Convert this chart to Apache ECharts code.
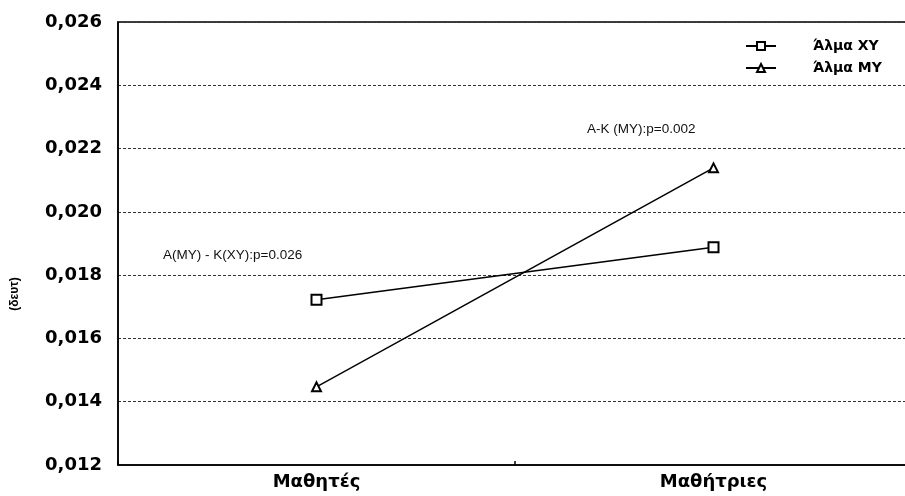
<!DOCTYPE html>
<html>
<head>
<meta charset="utf-8">
<script src="https://cdn.jsdelivr.net/npm/echarts@6/dist/echarts.min.js"></script>
<style>
  html, body { margin: 0; padding: 0; background: #fff; }
  #chart { width: 905px; height: 496px; }
</style>
</head>
<body>
<div id="chart"></div>
<script>
// Jump time by group (seconds)
const categories = ['Μαθητές', 'Μαθήτριες'];
const seriesNames = ['Άλμα XY', 'Άλμα MY'];
const jumpXY = [0.01722, 0.01888];
const jumpMY = [0.01447, 0.02139];
const yTicks = { min: 0.012, max: 0.026, step: 0.002 };
const yName = '(δευτ)';
const notes = ['A(MY) - K(XY):p=0.026', 'A-K (MY):p=0.002'];

const BOLD = '"DejaVu Sans", Verdana, sans-serif';
const PLAIN = '"Liberation Sans", Arial, sans-serif';
const chart = echarts.init(document.getElementById('chart'));

chart.setOption({
  backgroundColor: '#fff',
  animation: false,
  grid: {
    left: 118, top: 22, width: 794, height: 443,
    outerBoundsMode: 'none',
    show: true, borderColor: '#000', borderWidth: 1.5, backgroundColor: 'transparent'
  },
  legend: {
    orient: 'vertical',
    left: 740, top: 34,
    itemWidth: 30, itemHeight: 10, itemGap: 8,
    data: seriesNames,
    textStyle: {
      fontFamily: BOLD, fontWeight: 'bold', fontSize: 14, color: '#000',
      padding: [0, 0, 0, 32]
    }
  },
  xAxis: {
    type: 'category',
    data: categories,
    boundaryGap: true,
    axisLine: { lineStyle: { color: '#000', width: 1.5 } },
    axisTick: { show: true, inside: true, length: 4, lineStyle: { color: '#000', width: 1.5 } },
    axisLabel: { fontFamily: BOLD, fontWeight: 'bold', fontSize: 18, color: '#000', margin: 8 },
    splitLine: { show: false }
  },
  yAxis: {
    type: 'value',
    min: yTicks.min, max: yTicks.max, interval: yTicks.step,
    axisLine: { show: true, lineStyle: { color: '#000', width: 1.5 } },
    axisTick: { show: false },
    axisLabel: {
      fontFamily: BOLD, fontWeight: 'bold', fontSize: 18, color: '#000', margin: 16,
      formatter: v => v.toFixed(3).replace('.', ',')
    },
    splitLine: { show: true, lineStyle: { color: '#333', type: [3, 2], width: 1 } }
  },
  series: [
    {
      name: seriesNames[0], type: 'line', data: jumpXY,
      symbol: 'rect', symbolSize: 10,
      lineStyle: { color: '#000', width: 1.5 },
      itemStyle: { color: '#fff', borderColor: '#000', borderWidth: 2 }
    },
    {
      name: seriesNames[1], type: 'line', data: jumpMY,
      symbol: 'triangle', symbolSize: 9,
      lineStyle: { color: '#000', width: 1.5 },
      itemStyle: { color: '#fff', borderColor: '#000', borderWidth: 2 }
    }
  ],
  graphic: [
    { type: 'text', x: 15, y: 294, rotation: Math.PI / 2,
      style: { text: yName, font: 'bold 12px ' + PLAIN, fill: '#000',
               align: 'center', verticalAlign: 'middle' } },
    { type: 'text', left: 163, top: 248,
      style: { text: notes[0], font: '13.5px ' + PLAIN, fill: '#111' } },
    { type: 'text', left: 587, top: 122,
      style: { text: notes[1], font: '13.5px ' + PLAIN, fill: '#111' } }
  ]
});
</script>
</body>
</html>
